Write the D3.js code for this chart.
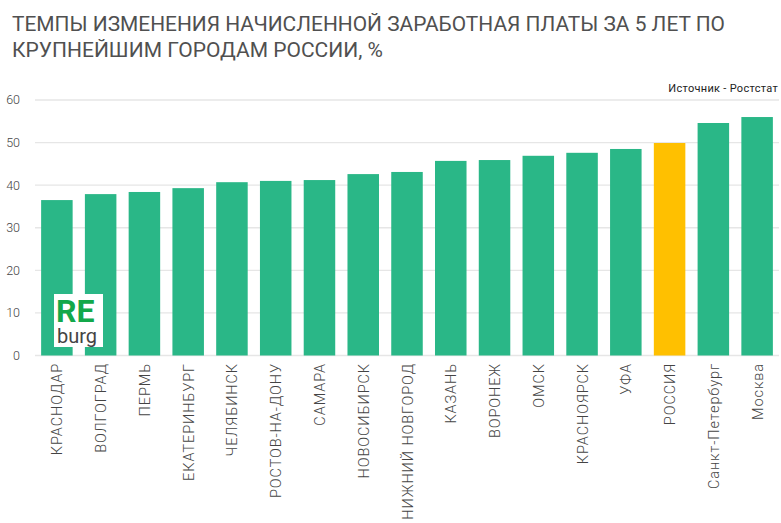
<!DOCTYPE html>
<html><head><meta charset="utf-8">
<script src="https://cdn.jsdelivr.net/npm/d3@7"></script>
<style>
html,body{margin:0;padding:0;background:#fff;}
svg{display:block;}
</style></head>
<body>
<svg id="c" width="781" height="523"></svg>
<script>
const categories = ["КРАСНОДАР","ВОЛГОГРАД","ПЕРМЬ","ЕКАТЕРИНБУРГ","ЧЕЛЯБИНСК","РОСТОВ-НА-ДОНУ","САМАРА","НОВОСИБИРСК","НИЖНИЙ НОВГОРОД","КАЗАНЬ","ВОРОНЕЖ","ОМСК","КРАСНОЯРСК","УФА","РОССИЯ","Санкт-Петербург","Москва"];
const values = [36.5,37.9,38.4,39.3,40.7,41.0,41.2,42.6,43.1,45.7,45.9,46.9,47.6,48.5,49.9,54.6,56.0];
const highlight = ["РОССИЯ"];
const yTicks = [0,10,20,30,40,50,60];
const titleLines = ["ТЕМПЫ ИЗМЕНЕНИЯ НАЧИСЛЕННОЙ ЗАРАБОТНАЯ ПЛАТЫ ЗА 5 ЛЕТ ПО","КРУПНЕЙШИМ ГОРОДАМ РОССИИ, %"];
const sourceText = "Источник - Ростстат";

const svg = d3.select("#c");
const titleFont = "Roboto,'DejaVu Sans Condensed',sans-serif";

// title
svg.append("text").attr("x",12).attr("y",31).attr("fill","#505050")
  .style("font-family",titleFont).style("font-size","20.5px")
  .attr("textLength",713).attr("lengthAdjust","spacingAndGlyphs").text(titleLines[0]);
svg.append("text").attr("x",12).attr("y",57).attr("fill","#505050")
  .style("font-family",titleFont).style("font-size","20.5px")
  .attr("textLength",371).attr("lengthAdjust","spacingAndGlyphs").text(titleLines[1]);
svg.append("text").attr("x",778).attr("y",92).attr("text-anchor","end").attr("fill","#222")
  .style("font-family",titleFont).style("font-size","11px")
  .style("letter-spacing","0.3px").text(sourceText);

const x = d3.scaleBand().domain(categories).range([35,779]).paddingInner(0.28).paddingOuter(0.14);
const y = d3.scaleLinear().domain([0,60]).range([355.5,100]);

// grid
svg.append("g").selectAll("line").data(yTicks).join("line")
  .attr("x1",35).attr("x2",779).attr("y1",d=>y(d)).attr("y2",d=>y(d))
  .attr("stroke","#e6e6e6").attr("stroke-width",1.3);

// y labels
svg.append("g").selectAll("text").data(yTicks).join("text")
  .attr("x",20).attr("y",d=>y(d)).attr("dy","0.35em").attr("text-anchor","end")
  .attr("fill","#444").style("font-family","Roboto,sans-serif").style("font-weight","300").style("font-size","12.5px")
  .text(d=>d);

// bars
svg.append("g").selectAll("rect").data(categories).join("rect")
  .attr("x",d=>x(d)).attr("width",x.bandwidth())
  .attr("y",(d,i)=>y(values[i])).attr("height",(d,i)=>y(0)-y(values[i]))
  .attr("fill",d=>highlight.includes(d)?"#FFC000":"#2AB787");

// x labels
svg.append("g").selectAll("text").data(categories).join("text")
  .attr("transform",d=>`translate(${x(d)+x.bandwidth()/2+5.5},363) rotate(-90)`)
  .attr("text-anchor","end").attr("fill","#444")
  .style("font-family","Roboto,sans-serif").style("font-weight","300").style("font-size","14.5px")
  .style("letter-spacing","0.9px")
  .text(d=>d);

// logo
const logo = svg.append("g");
logo.append("rect").attr("x",54).attr("y",294).attr("width",49).attr("height",53).attr("fill","#fff");
logo.append("text").attr("x",56).attr("y",322).attr("fill","#13A84A")
  .style("font-family","Roboto,sans-serif").style("font-weight","700").style("font-size","32px").text("RE");
logo.append("text").attr("x",57).attr("y",343).attr("fill","#444")
  .style("font-family","Roboto,sans-serif").style("font-size","20px").text("burg");
</script>
</body></html>
